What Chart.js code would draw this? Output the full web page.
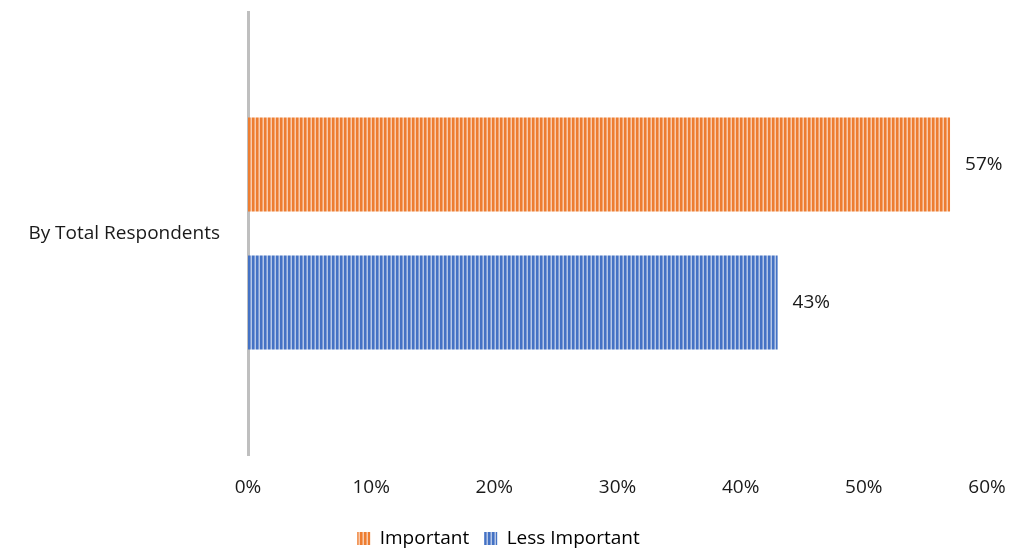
<!DOCTYPE html>
<html>
<head>
<meta charset="utf-8">
<script src="https://cdn.jsdelivr.net/npm/chart.js@4/dist/chart.umd.min.js"></script>
<style>
  html, body { margin: 0; padding: 0; background: #fff; }
  #wrap { width: 1012px; height: 552px; position: relative; }
</style>
</head>
<body>
<div id="wrap"><canvas id="myChart"></canvas></div>
<script>
const categories = ['By Total Respondents'];
const seriesNames = ['Important', 'Less Important'];
const importantValues = [57];
const lessImportantValues = [43];
const xTicks = [0, 10, 20, 30, 40, 50, 60];

const baseColors = ['#ED7D31', '#4472C4'];
const lightColors = ['#F8CBAD', '#B4C7E7'];
const midColors = ['#F4A46F', '#7D9BD6'];

// vertical stripe fill, like the office pattern
function stripes(base, mid, light) {
    const c = document.createElement('canvas');
    c.width = 4; c.height = 4;
    const g = c.getContext('2d');
    g.fillStyle = base; g.fillRect(0, 0, 4, 4);
    g.fillStyle = mid; g.fillRect(2, 0, 1, 4);
    g.fillStyle = light; g.fillRect(3, 0, 1, 4);
    return g.createPattern(c, 'repeat');
}

const fonts = "'Open Sans', 'Noto Sans', sans-serif";
const fontSize = 19;

// value labels to the right of each bar
const valueLabels = {
    id: 'valueLabels',
    afterDatasetsDraw(chart) {
        const ctx = chart.ctx;
        ctx.save();
        ctx.font = fontSize + 'px ' + fonts;
        ctx.fillStyle = '#1a1a1a';
        ctx.textBaseline = 'middle';
        ctx.textAlign = 'left';
        chart.data.datasets.forEach((ds, i) => {
            chart.getDatasetMeta(i).data.forEach((bar, j) => {
                ctx.fillText(ds.data[j] + '%', bar.x + 15, bar.y);
            });
        });
        ctx.restore();
    }
};

const ctx = document.getElementById('myChart').getContext('2d');
new Chart(ctx, {
    type: 'bar',
    data: {
        labels: categories,
        datasets: [{
            label: seriesNames[0],
            data: importantValues,
            backgroundColor: stripes(baseColors[0], midColors[0], lightColors[0]),
            borderWidth: 0
        }, {
            label: seriesNames[1],
            data: lessImportantValues,
            backgroundColor: stripes(baseColors[1], midColors[1], lightColors[1]),
            borderWidth: 0
        }]
    },
    options: {
        indexAxis: 'y',
        responsive: true,
        maintainAspectRatio: false,
        animation: false,
        categoryPercentage: 0.623,
        barPercentage: 0.68,
        layout: { padding: { top: 12, right: 25, left: 10, bottom: -6 } },
        plugins: {
            legend: {
                position: 'bottom',
                labels: {
                    boxWidth: 13, boxHeight: 13, padding: 15,
                    color: '#1a1a1a',
                    font: { size: fontSize, family: fonts },
                    generateLabels(chart) {
                        return chart.data.datasets.map((ds, i) => ({
                            text: ds.label,
                            fillStyle: ds.backgroundColor,
                            strokeStyle: ds.backgroundColor,
                            lineWidth: 0,
                            datasetIndex: i
                        }));
                    }
                }
            },
            tooltip: { enabled: false }
        },
        scales: {
            x: {
                min: 0, max: 60,
                afterBuildTicks(scale) { scale.ticks = xTicks.map(v => ({ value: v })); },
                afterFit(scale) {
                    scale.height = 59;
                    scale.paddingLeft = 0;
                    scale.paddingRight = 0;
                },
                grid: { display: false, drawTicks: false },
                border: { display: false },
                ticks: {
                    padding: 21,
                    color: '#1a1a1a',
                    font: { size: fontSize, family: fonts },
                    callback: v => v + '%'
                }
            },
            y: {
                grid: { display: false, drawTicks: false },
                border: { display: true, color: '#BFBFBF', width: 3 },
                afterFit(scale) {
                    scale.width = 238;
                    scale.paddingTop = 0;
                    scale.paddingBottom = 0;
                },
                ticks: {
                    padding: 28,
                    color: '#1a1a1a',
                    font: { size: fontSize, family: fonts }
                }
            }
        }
    },
    plugins: [valueLabels]
});
</script>
</body>
</html>
